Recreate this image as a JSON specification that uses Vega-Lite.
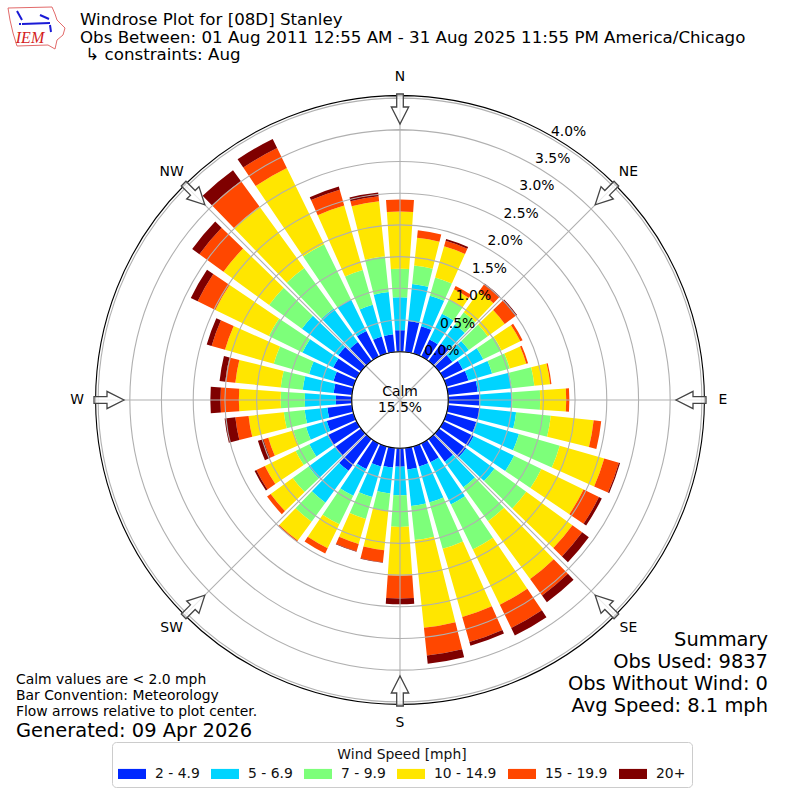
{"$schema":"https://vega.github.io/schema/vega-lite/v6.json","width":800,"height":800,"padding":0,"autosize":{"type":"none"},"background":"white","config":{"font":"DejaVu Sans","view":{"stroke":null}},
"datasets":{"bars":[
{"dir":0,"bin":1,"speed":"2 - 4.9","pct":0.34},{"dir":0,"bin":2,"speed":"5 - 6.9","pct":0.52},{"dir":0,"bin":3,"speed":"7 - 9.9","pct":0.45},{"dir":0,"bin":4,"speed":"10 - 14.9","pct":0.9},{"dir":0,"bin":5,"speed":"15 - 19.9","pct":0.19},{"dir":0,"bin":6,"speed":"20+","pct":0},
{"dir":10,"bin":1,"speed":"2 - 4.9","pct":0.49},{"dir":10,"bin":2,"speed":"5 - 6.9","pct":0.59},{"dir":10,"bin":3,"speed":"7 - 9.9","pct":0.29},{"dir":10,"bin":4,"speed":"10 - 14.9","pct":0.44},{"dir":10,"bin":5,"speed":"15 - 19.9","pct":0.12},{"dir":10,"bin":6,"speed":"20+","pct":0},
{"dir":20,"bin":1,"speed":"2 - 4.9","pct":0.45},{"dir":20,"bin":2,"speed":"5 - 6.9","pct":0.5},{"dir":20,"bin":3,"speed":"7 - 9.9","pct":0.3},{"dir":20,"bin":4,"speed":"10 - 14.9","pct":0.51},{"dir":20,"bin":5,"speed":"15 - 19.9","pct":0.09},{"dir":20,"bin":6,"speed":"20+","pct":0.03},
{"dir":30,"bin":1,"speed":"2 - 4.9","pct":0.3},{"dir":30,"bin":2,"speed":"5 - 6.9","pct":0.45},{"dir":30,"bin":3,"speed":"7 - 9.9","pct":0.25},{"dir":30,"bin":4,"speed":"10 - 14.9","pct":0.18},{"dir":30,"bin":5,"speed":"15 - 19.9","pct":0.06},{"dir":30,"bin":6,"speed":"20+","pct":0},
{"dir":40,"bin":1,"speed":"2 - 4.9","pct":0.34},{"dir":40,"bin":2,"speed":"5 - 6.9","pct":0.37},{"dir":40,"bin":3,"speed":"7 - 9.9","pct":0.24},{"dir":40,"bin":4,"speed":"10 - 14.9","pct":0.41},{"dir":40,"bin":5,"speed":"15 - 19.9","pct":0.13},{"dir":40,"bin":6,"speed":"20+","pct":0.02},
{"dir":50,"bin":1,"speed":"2 - 4.9","pct":0.26},{"dir":50,"bin":2,"speed":"5 - 6.9","pct":0.32},{"dir":50,"bin":3,"speed":"7 - 9.9","pct":0.37},{"dir":50,"bin":4,"speed":"10 - 14.9","pct":0.33},{"dir":50,"bin":5,"speed":"15 - 19.9","pct":0.21},{"dir":50,"bin":6,"speed":"20+","pct":0.03},
{"dir":60,"bin":1,"speed":"2 - 4.9","pct":0.34},{"dir":60,"bin":2,"speed":"5 - 6.9","pct":0.36},{"dir":60,"bin":3,"speed":"7 - 9.9","pct":0.32},{"dir":60,"bin":4,"speed":"10 - 14.9","pct":0.33},{"dir":60,"bin":5,"speed":"15 - 19.9","pct":0.04},{"dir":60,"bin":6,"speed":"20+","pct":0},
{"dir":70,"bin":1,"speed":"2 - 4.9","pct":0.36},{"dir":70,"bin":2,"speed":"5 - 6.9","pct":0.39},{"dir":70,"bin":3,"speed":"7 - 9.9","pct":0.29},{"dir":70,"bin":4,"speed":"10 - 14.9","pct":0.27},{"dir":70,"bin":5,"speed":"15 - 19.9","pct":0.03},{"dir":70,"bin":6,"speed":"20+","pct":0},
{"dir":80,"bin":1,"speed":"2 - 4.9","pct":0.47},{"dir":80,"bin":2,"speed":"5 - 6.9","pct":0.54},{"dir":80,"bin":3,"speed":"7 - 9.9","pct":0.36},{"dir":80,"bin":4,"speed":"10 - 14.9","pct":0.25},{"dir":80,"bin":5,"speed":"15 - 19.9","pct":0.02},{"dir":80,"bin":6,"speed":"20+","pct":0},
{"dir":90,"bin":1,"speed":"2 - 4.9","pct":0.49},{"dir":90,"bin":2,"speed":"5 - 6.9","pct":0.52},{"dir":90,"bin":3,"speed":"7 - 9.9","pct":0.44},{"dir":90,"bin":4,"speed":"10 - 14.9","pct":0.41},{"dir":90,"bin":5,"speed":"15 - 19.9","pct":0.05},{"dir":90,"bin":6,"speed":"20+","pct":0},
{"dir":100,"bin":1,"speed":"2 - 4.9","pct":0.5},{"dir":100,"bin":2,"speed":"5 - 6.9","pct":0.58},{"dir":100,"bin":3,"speed":"7 - 9.9","pct":0.55},{"dir":100,"bin":4,"speed":"10 - 14.9","pct":0.68},{"dir":100,"bin":5,"speed":"15 - 19.9","pct":0.12},{"dir":100,"bin":6,"speed":"20+","pct":0},
{"dir":110,"bin":1,"speed":"2 - 4.9","pct":0.49},{"dir":110,"bin":2,"speed":"5 - 6.9","pct":0.7},{"dir":110,"bin":3,"speed":"7 - 9.9","pct":0.67},{"dir":110,"bin":4,"speed":"10 - 14.9","pct":0.73},{"dir":110,"bin":5,"speed":"15 - 19.9","pct":0.24},{"dir":110,"bin":6,"speed":"20+","pct":0.02},
{"dir":120,"bin":1,"speed":"2 - 4.9","pct":0.53},{"dir":120,"bin":2,"speed":"5 - 6.9","pct":0.71},{"dir":120,"bin":3,"speed":"7 - 9.9","pct":0.48},{"dir":120,"bin":4,"speed":"10 - 14.9","pct":0.74},{"dir":120,"bin":5,"speed":"15 - 19.9","pct":0.27},{"dir":120,"bin":6,"speed":"20+","pct":0.05},
{"dir":130,"bin":1,"speed":"2 - 4.9","pct":0.53},{"dir":130,"bin":2,"speed":"5 - 6.9","pct":0.55},{"dir":130,"bin":3,"speed":"7 - 9.9","pct":0.62},{"dir":130,"bin":4,"speed":"10 - 14.9","pct":0.9},{"dir":130,"bin":5,"speed":"15 - 19.9","pct":0.19},{"dir":130,"bin":6,"speed":"20+","pct":0.13},
{"dir":140,"bin":1,"speed":"2 - 4.9","pct":0.44},{"dir":140,"bin":2,"speed":"5 - 6.9","pct":0.5},{"dir":140,"bin":3,"speed":"7 - 9.9","pct":0.66},{"dir":140,"bin":4,"speed":"10 - 14.9","pct":1.13},{"dir":140,"bin":5,"speed":"15 - 19.9","pct":0.32},{"dir":140,"bin":6,"speed":"20+","pct":0.13},
{"dir":150,"bin":1,"speed":"2 - 4.9","pct":0.33},{"dir":150,"bin":2,"speed":"5 - 6.9","pct":0.74},{"dir":150,"bin":3,"speed":"7 - 9.9","pct":0.79},{"dir":150,"bin":4,"speed":"10 - 14.9","pct":0.97},{"dir":150,"bin":5,"speed":"15 - 19.9","pct":0.41},{"dir":150,"bin":6,"speed":"20+","pct":0.13},
{"dir":160,"bin":1,"speed":"2 - 4.9","pct":0.33},{"dir":160,"bin":2,"speed":"5 - 6.9","pct":0.59},{"dir":160,"bin":3,"speed":"7 - 9.9","pct":0.76},{"dir":160,"bin":4,"speed":"10 - 14.9","pct":1.12},{"dir":160,"bin":5,"speed":"15 - 19.9","pct":0.41},{"dir":160,"bin":6,"speed":"20+","pct":0.06},
{"dir":170,"bin":1,"speed":"2 - 4.9","pct":0.34},{"dir":170,"bin":2,"speed":"5 - 6.9","pct":0.58},{"dir":170,"bin":3,"speed":"7 - 9.9","pct":0.54},{"dir":170,"bin":4,"speed":"10 - 14.9","pct":1.39},{"dir":170,"bin":5,"speed":"15 - 19.9","pct":0.44},{"dir":170,"bin":6,"speed":"20+","pct":0.13},
{"dir":180,"bin":1,"speed":"2 - 4.9","pct":0.29},{"dir":180,"bin":2,"speed":"5 - 6.9","pct":0.45},{"dir":180,"bin":3,"speed":"7 - 9.9","pct":0.5},{"dir":180,"bin":4,"speed":"10 - 14.9","pct":0.77},{"dir":180,"bin":5,"speed":"15 - 19.9","pct":0.36},{"dir":180,"bin":6,"speed":"20+","pct":0.09},
{"dir":190,"bin":1,"speed":"2 - 4.9","pct":0.31},{"dir":190,"bin":2,"speed":"5 - 6.9","pct":0.41},{"dir":190,"bin":3,"speed":"7 - 9.9","pct":0.28},{"dir":190,"bin":4,"speed":"10 - 14.9","pct":0.62},{"dir":190,"bin":5,"speed":"15 - 19.9","pct":0.19},{"dir":190,"bin":6,"speed":"20+","pct":0.01},
{"dir":200,"bin":1,"speed":"2 - 4.9","pct":0.33},{"dir":200,"bin":2,"speed":"5 - 6.9","pct":0.5},{"dir":200,"bin":3,"speed":"7 - 9.9","pct":0.36},{"dir":200,"bin":4,"speed":"10 - 14.9","pct":0.41},{"dir":200,"bin":5,"speed":"15 - 19.9","pct":0.12},{"dir":200,"bin":6,"speed":"20+","pct":0.01},
{"dir":210,"bin":1,"speed":"2 - 4.9","pct":0.45},{"dir":210,"bin":2,"speed":"5 - 6.9","pct":0.47},{"dir":210,"bin":3,"speed":"7 - 9.9","pct":0.5},{"dir":210,"bin":4,"speed":"10 - 14.9","pct":0.42},{"dir":210,"bin":5,"speed":"15 - 19.9","pct":0.09},{"dir":210,"bin":6,"speed":"20+","pct":0},
{"dir":220,"bin":1,"speed":"2 - 4.9","pct":0.62},{"dir":220,"bin":2,"speed":"5 - 6.9","pct":0.62},{"dir":220,"bin":3,"speed":"7 - 9.9","pct":0.37},{"dir":220,"bin":4,"speed":"10 - 14.9","pct":0.37},{"dir":220,"bin":5,"speed":"15 - 19.9","pct":0.02},{"dir":220,"bin":6,"speed":"20+","pct":0},
{"dir":230,"bin":1,"speed":"2 - 4.9","pct":0.5},{"dir":230,"bin":2,"speed":"5 - 6.9","pct":0.52},{"dir":230,"bin":3,"speed":"7 - 9.9","pct":0.31},{"dir":230,"bin":4,"speed":"10 - 14.9","pct":0.43},{"dir":230,"bin":5,"speed":"15 - 19.9","pct":0.07},{"dir":230,"bin":6,"speed":"20+","pct":0},
{"dir":240,"bin":1,"speed":"2 - 4.9","pct":0.51},{"dir":240,"bin":2,"speed":"5 - 6.9","pct":0.32},{"dir":240,"bin":3,"speed":"7 - 9.9","pct":0.24},{"dir":240,"bin":4,"speed":"10 - 14.9","pct":0.54},{"dir":240,"bin":5,"speed":"15 - 19.9","pct":0.15},{"dir":240,"bin":6,"speed":"20+","pct":0.03},
{"dir":250,"bin":1,"speed":"2 - 4.9","pct":0.44},{"dir":250,"bin":2,"speed":"5 - 6.9","pct":0.34},{"dir":250,"bin":3,"speed":"7 - 9.9","pct":0.21},{"dir":250,"bin":4,"speed":"10 - 14.9","pct":0.41},{"dir":250,"bin":5,"speed":"15 - 19.9","pct":0.08},{"dir":250,"bin":6,"speed":"20+","pct":0.09},
{"dir":260,"bin":1,"speed":"2 - 4.9","pct":0.39},{"dir":260,"bin":2,"speed":"5 - 6.9","pct":0.36},{"dir":260,"bin":3,"speed":"7 - 9.9","pct":0.33},{"dir":260,"bin":4,"speed":"10 - 14.9","pct":0.56},{"dir":260,"bin":5,"speed":"15 - 19.9","pct":0.21},{"dir":260,"bin":6,"speed":"20+","pct":0.17},
{"dir":270,"bin":1,"speed":"2 - 4.9","pct":0.25},{"dir":270,"bin":2,"speed":"5 - 6.9","pct":0.49},{"dir":270,"bin":3,"speed":"7 - 9.9","pct":0.38},{"dir":270,"bin":4,"speed":"10 - 14.9","pct":0.66},{"dir":270,"bin":5,"speed":"15 - 19.9","pct":0.29},{"dir":270,"bin":6,"speed":"20+","pct":0.16},
{"dir":280,"bin":1,"speed":"2 - 4.9","pct":0.29},{"dir":280,"bin":2,"speed":"5 - 6.9","pct":0.49},{"dir":280,"bin":3,"speed":"7 - 9.9","pct":0.35},{"dir":280,"bin":4,"speed":"10 - 14.9","pct":0.72},{"dir":280,"bin":5,"speed":"15 - 19.9","pct":0.16},{"dir":280,"bin":6,"speed":"20+","pct":0.09},
{"dir":290,"bin":1,"speed":"2 - 4.9","pct":0.33},{"dir":290,"bin":2,"speed":"5 - 6.9","pct":0.4},{"dir":290,"bin":3,"speed":"7 - 9.9","pct":0.58},{"dir":290,"bin":4,"speed":"10 - 14.9","pct":0.8},{"dir":290,"bin":5,"speed":"15 - 19.9","pct":0.22},{"dir":290,"bin":6,"speed":"20+","pct":0.08},
{"dir":300,"bin":1,"speed":"2 - 4.9","pct":0.41},{"dir":300,"bin":2,"speed":"5 - 6.9","pct":0.54},{"dir":300,"bin":3,"speed":"7 - 9.9","pct":0.59},{"dir":300,"bin":4,"speed":"10 - 14.9","pct":0.94},{"dir":300,"bin":5,"speed":"15 - 19.9","pct":0.31},{"dir":300,"bin":6,"speed":"20+","pct":0.12},
{"dir":310,"bin":1,"speed":"2 - 4.9","pct":0.44},{"dir":310,"bin":2,"speed":"5 - 6.9","pct":0.71},{"dir":310,"bin":3,"speed":"7 - 9.9","pct":0.64},{"dir":310,"bin":4,"speed":"10 - 14.9","pct":0.89},{"dir":310,"bin":5,"speed":"15 - 19.9","pct":0.47},{"dir":310,"bin":6,"speed":"20+","pct":0.14},
{"dir":320,"bin":1,"speed":"2 - 4.9","pct":0.37},{"dir":320,"bin":2,"speed":"5 - 6.9","pct":0.65},{"dir":320,"bin":3,"speed":"7 - 9.9","pct":0.79},{"dir":320,"bin":4,"speed":"10 - 14.9","pct":1.2},{"dir":320,"bin":5,"speed":"15 - 19.9","pct":0.5},{"dir":320,"bin":6,"speed":"20+","pct":0.21},
{"dir":330,"bin":1,"speed":"2 - 4.9","pct":0.45},{"dir":330,"bin":2,"speed":"5 - 6.9","pct":0.55},{"dir":330,"bin":3,"speed":"7 - 9.9","pct":0.97},{"dir":330,"bin":4,"speed":"10 - 14.9","pct":1.34},{"dir":330,"bin":5,"speed":"15 - 19.9","pct":0.35},{"dir":330,"bin":6,"speed":"20+","pct":0.16},
{"dir":340,"bin":1,"speed":"2 - 4.9","pct":0.28},{"dir":340,"bin":2,"speed":"5 - 6.9","pct":0.52},{"dir":340,"bin":3,"speed":"7 - 9.9","pct":0.57},{"dir":340,"bin":4,"speed":"10 - 14.9","pct":1.06},{"dir":340,"bin":5,"speed":"15 - 19.9","pct":0.26},{"dir":340,"bin":6,"speed":"20+","pct":0.05},
{"dir":350,"bin":1,"speed":"2 - 4.9","pct":0.28},{"dir":350,"bin":2,"speed":"5 - 6.9","pct":0.67},{"dir":350,"bin":3,"speed":"7 - 9.9","pct":0.57},{"dir":350,"bin":4,"speed":"10 - 14.9","pct":0.87},{"dir":350,"bin":5,"speed":"15 - 19.9","pct":0.08},{"dir":350,"bin":6,"speed":"20+","pct":0.06}
],
"rings":[{"pct":0,"label":"0.0%"},{"pct":0.5,"label":"0.5%"},{"pct":1,"label":"1.0%"},{"pct":1.5,"label":"1.5%"},{"pct":2,"label":"2.0%"},{"pct":2.5,"label":"2.5%"},{"pct":3,"label":"3.0%"},{"pct":3.5,"label":"3.5%"},{"pct":4,"label":"4.0%"}],
"compass":[{"dir":0,"label":"N"},{"dir":45,"label":"NE"},{"dir":90,"label":"E"},{"dir":135,"label":"SE"},{"dir":180,"label":"S"},{"dir":225,"label":"SW"},{"dir":270,"label":"W"},{"dir":315,"label":"NW"}]},
"layer":[
{"data":{"name":"bars"},"transform":[{"stack":"pct","groupby":["dir"],"sort":[{"field":"bin","order":"ascending"}],"as":["lo","hi"]}],
"mark":{"type":"arc"},
"encoding":{"theta":{"field":"dir","type":"ordinal","scale":{"type":"band","domain":[0,10,20,30,40,50,60,70,80,90,100,110,120,130,140,150,160,170,180,190,200,210,220,230,240,250,260,270,280,290,300,310,320,330,340,350],"range":[-0.08727,6.19592],"paddingInner":0.2,"paddingOuter":0.1}},
"radius":{"field":"hi","type":"quantitative","stack":null,"scale":{"type":"linear","domain":[0,4.04],"range":[48.3,304.4],"zero":false,"nice":false}},
"radius2":{"field":"lo"},
"fill":{"field":"speed","type":"nominal","scale":{"domain":["2 - 4.9","5 - 6.9","7 - 9.9","10 - 14.9","15 - 19.9","20+"],"range":["#0028ff","#00d4ff","#7dff7a","#ffe600","#ff4700","#7f0000"]},
"legend":{"title":"Wind Speed [mph]","orient":"none","legendX":112,"legendY":742,"direction":"horizontal","columns":6,"gridAlign":"each","columnPadding":11,"padding":6,"strokeColor":"#cccccc","cornerRadius":4,"fillColor":"white","symbolType":"M-1,-0.42H1.333V0.42H-1Z","symbolSize":576,"symbolStrokeWidth":0,"labelFontSize":13.9,"labelOffset":13,"labelColor":"#111111","titleFontSize":13.9,"titleFontWeight":"normal","titleColor":"#111111","titleAnchor":"middle","titleAlign":"center","titlePadding":0}}}},
{"data":{"name":"rings"},"mark":{"type":"arc","fillOpacity":0,"stroke":"#b0b0b0","strokeWidth":1.1},
"encoding":{"theta":{"value":0},"theta2":{"value":6.2832},"radius":{"field":"pct","type":"quantitative"},"radius2":{"field":"pct"}}},
{"data":{"name":"compass"},"mark":{"type":"point","shape":"M0,0V-304","size":4,"stroke":"#b0b0b0","strokeWidth":1.1,"fillOpacity":0,"opacity":1},
"encoding":{"angle":{"field":"dir","type":"quantitative","scale":{"domain":[0,360],"range":[0,360]}}}},
{"data":{"values":[{"pct":4.04}]},"mark":{"type":"arc","fillOpacity":0,"stroke":"#000000","strokeWidth":1.1},
"encoding":{"theta":{"value":0},"theta2":{"value":6.2832},"radius":{"field":"pct","type":"quantitative"},"radius2":{"field":"pct"}}},
{"data":{"values":[{"pct":0}]},"mark":{"type":"arc","fill":"white","stroke":"#000000","strokeWidth":1.1},
"encoding":{"theta":{"value":0},"theta2":{"value":6.2832},"radius":{"field":"pct","type":"quantitative"}}},
{"data":{"name":"rings"},"mark":{"type":"text","align":"left","baseline":"bottom","fontSize":13.9,"color":"#000000"},
"encoding":{"theta":{"value":0.5236},"radius":{"field":"pct","type":"quantitative"},"text":{"field":"label"}}},
{"data":{"name":"compass"},"mark":{"type":"point","shape":"M-3.3,-306H3.3V-293H8.7L0,-276L-8.7,-293H-3.3Z","size":4,"filled":true,"fill":"white","fillOpacity":0.75,"stroke":"#444444","strokeWidth":1.3,"opacity":1},
"encoding":{"angle":{"field":"dir","type":"quantitative","scale":{"domain":[0,360],"range":[0,360]}}}},
{"data":{"name":"compass"},"mark":{"type":"text","fontSize":13.9,"color":"#000000","align":"center","baseline":"middle"},
"encoding":{"theta":{"field":"dir","type":"quantitative","scale":{"domain":[0,360],"range":[0,6.28319]}},"radius":{"value":323},"text":{"field":"label"}}},
{"data":{"values":[{"t":"Calm\n15.5%"}]},"mark":{"type":"text","fontSize":13.9,"lineBreak":"\n","lineHeight":16,"align":"center","baseline":"middle","dy":-8,"color":"#000000"},"encoding":{"text":{"field":"t"}}},
{"data":{"values":[{"t":"Windrose Plot for [08D] Stanley\nObs Between: 01 Aug 2011 12:55 AM - 31 Aug 2025 11:55 PM America/Chicago\n\u200b\u00a0↳ constraints: Aug"}]},"mark":{"type":"text","x":80,"y":12,"fontSize":16.67,"lineBreak":"\n","lineHeight":17.5,"align":"left","baseline":"top","color":"#000000"},"encoding":{"text":{"field":"t"}}},
{"data":{"values":[{"t":"Calm values are < 2.0 mph\nBar Convention: Meteorology\nFlow arrows relative to plot center."}]},"mark":{"type":"text","x":16,"y":673,"fontSize":13.9,"lineBreak":"\n","lineHeight":15.8,"align":"left","baseline":"top","color":"#000000"},"encoding":{"text":{"field":"t"}}},
{"data":{"values":[{"t":"Generated: 09 Apr 2026"}]},"mark":{"type":"text","x":16,"y":731,"fontSize":19.44,"align":"left","baseline":"middle","color":"#000000"},"encoding":{"text":{"field":"t"}}},
{"data":{"values":[{"t":"Summary\nObs Used: 9837\nObs Without Wind: 0\nAvg Speed: 8.1 mph"}]},"mark":{"type":"text","x":768,"y":631,"fontSize":19.44,"lineBreak":"\n","lineHeight":22,"align":"right","baseline":"top","color":"#000000"},"encoding":{"text":{"field":"t"}}},
{"data":{"values":[{"part":"Iowa outline"}]},"mark":{"type":"point","shape":"M-392,-392L-348,-393L-345,-386L-343,-380L-335,-372L-337,-365L-343,-360L-345,-351L-352,-355L-383,-354L-387,-367L-390,-380Z","size":4,"stroke":"#e26a6a","strokeWidth":1,"fillOpacity":0,"opacity":1},"encoding":{}},
{"data":{"values":[{"part":"wind symbol"}]},"mark":{"type":"point","shape":"M-378,-376L-350,-377M-360,-385L-351,-381M-383,-389L-378,-380M-350,-375L-349,-368M-380,-377L-380,-375","size":4,"stroke":"#1a1ad6","strokeWidth":2,"fillOpacity":0,"opacity":1},"encoding":{}},
{"data":{"values":[{"t":"IEM"}]},"mark":{"type":"text","x":30,"y":38,"font":"Liberation Serif","fontStyle":"italic","fontSize":16,"align":"center","baseline":"middle","color":"#d42020"},"encoding":{"text":{"field":"t"}}}
],
"resolve":{"scale":{"theta":"independent","radius":"shared"}}}
